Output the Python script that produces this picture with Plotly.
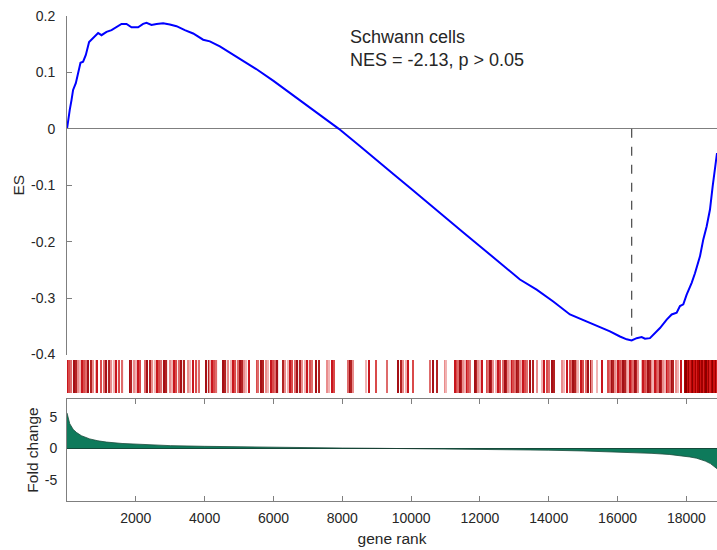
import plotly.graph_objects as go

# Running enrichment score, sampled along the ranked gene list
es_rank = [0, 32, 81, 131, 177, 256, 323, 392, 468, 547, 642, 759, 904, 1003, 1148,
           1294, 1439, 1584, 1730, 1875, 2067, 2212, 2311, 2456, 2602, 2794, 2989,
           3183, 3424, 3666, 3957, 4151, 4442, 4829, 5023, 5500, 6000, 6500, 7000,
           7500, 7900, 8500, 9000, 9500, 10000, 10500, 11000, 11500, 12000, 12500,
           13000, 13163, 13648, 14131, 14616, 15102, 15585, 15779, 16070, 16265,
           16410, 16555, 16701, 16797, 16942, 17088, 17233, 17428, 17573, 17718,
           17814, 17911, 18008, 18154, 18250, 18395, 18492, 18589, 18686, 18764,
           18831, 18890]
es_value = [0, 0.016, 0.034, 0.051, 0.069, 0.081, 0.101, 0.117, 0.119, 0.131, 0.154,
            0.161, 0.170, 0.166, 0.172, 0.175, 0.181, 0.186, 0.186, 0.180, 0.180,
            0.186, 0.188, 0.184, 0.186, 0.187, 0.185, 0.182, 0.175, 0.169, 0.158,
            0.155, 0.146, 0.131, 0.125, 0.106, 0.085, 0.063, 0.040, 0.018, 0.0,
            -0.030, -0.056, -0.081, -0.106, -0.132, -0.157, -0.183, -0.208, -0.233,
            -0.259, -0.267, -0.285, -0.306, -0.329, -0.341, -0.353, -0.359, -0.368,
            -0.373, -0.375, -0.371, -0.369, -0.372, -0.371, -0.362, -0.353, -0.338,
            -0.329, -0.326, -0.314, -0.311, -0.294, -0.273, -0.256, -0.226, -0.196,
            -0.173, -0.143, -0.102, -0.067, -0.043]

# Fold change of each gene along the ranking
fc_rank = [0, 80, 180, 280, 420, 660, 900, 1150, 1600, 2100, 2600, 3000, 4000, 5000,
           6000, 7000, 8000, 9000, 9500, 10000, 11000, 12000, 13000, 14000, 15000,
           16000, 16500, 17000, 17500, 17900, 18100, 18300, 18400, 18550, 18700,
           18800, 18890]
fc_value = [5.6, 3.9, 3.0, 2.5, 2.0, 1.5, 1.2, 1.0, 0.78, 0.62, 0.5, 0.44, 0.33, 0.24,
            0.17, 0.11, 0.06, 0.02, 0.0, -0.02, -0.06, -0.1, -0.15, -0.28, -0.4,
            -0.55, -0.65, -0.78, -0.95, -1.15, -1.35, -1.55, -1.7, -2.0, -2.4, -2.8,
            -3.2]

# Ranks of the gene-set members
hit_rank = [
    3, 61, 131, 198, 256, 323, 392, 451, 509, 567, 616, 694, 759, 837, 860, 983,
    1070, 1148, 1224, 1294, 1361, 1439, 1515, 1614, 1826, 1875, 1942, 2000, 2067,
    2116, 2262, 2328, 2407, 2486, 2552, 2619, 2677, 2747, 2814, 2893, 2989, 3067,
    3113, 3183, 3259, 3329, 3396, 3520, 3590, 3666, 3765, 3840, 4055, 4131, 4160,
    4201, 4230, 4267, 4346, 4538, 4608, 4683,
    4762, 4829, 4898, 4957, 5023, 5090, 5148, 5218, 5285, 5509, 5555, 5634, 5701,
    5771, 5846, 5925, 5992, 6061, 6119, 6282, 6331, 6410, 6477, 6544, 6622, 6700,
    6768, 6834, 6913, 6991, 7058, 7125, 7224, 7320, 7544, 7611, 7689, 7747, 8172,
    8212, 8250, 8299, 8677, 8773, 8968, 9297,
    9625, 9695, 9770, 9849, 9915, 10044, 10547, 10625, 10742, 10983, 11012, 11273,
    11323, 11369, 11418, 11468, 11514, 11563, 11613, 11660, 11709, 11854, 11903,
    11950, 11999, 12048, 12195, 12241, 12290, 12340, 12387, 12465, 12532, 12581,
    12677, 12727, 12776, 12823, 12872, 12922, 12968, 13017, 13067, 13114, 13163,
    13212, 13259, 13308, 13357, 13453, 13550, 13648, 13794, 13861, 13939, 14015,
    14085, 14151,
    14375, 14451, 14520, 14616, 14665, 14712, 14761, 14810, 14857, 14936, 15003,
    15073, 15149, 15227, 15265, 15393, 15538, 15730, 15779, 15829, 15875, 15925,
    15974, 16020, 16070, 16119, 16166, 16215, 16265, 16311, 16361, 16410, 16457,
    16506, 16555, 16602, 16701, 16747, 16797, 16846, 16893, 16942, 16992, 17038,
    17088, 17137, 17184, 17233, 17282, 17329, 17378, 17428, 17474, 17524, 17573,
    17620, 17690, 17765, 17843, 17960, 17998, 18038, 18076, 18114, 18154, 18192,
    18230, 18271, 18309, 18347, 18385, 18425, 18463, 18501, 18541, 18579, 18617,
    18657, 18695, 18735, 18773, 18811, 18851, 18890,
]

gene_set = "Schwann cells"
nes = -2.13
p_label = "p > 0.05"
x_max = 18890

FONT = "Liberation Sans, Arial, Helvetica, sans-serif"
TEXT = "#262626"
AXIS = "#7f7f7f"

# Bar shades for the member strip
light_mix = ["#c8161d", "#e98c8c", "#a50f15", "#d94a4a", "#f1b3b3", "#b22222", "#de6b6b"]
dark_mix = ["#b30000", "#8b0000", "#cc1010", "#a00000", "#d42020"]
hit_colors = [
    (dark_mix[i % len(dark_mix)] if r > 17900 else light_mix[(i * 3) % len(light_mix)])
    for i, r in enumerate(hit_rank)
]

# Leading-edge position (most negative running score)
i_peak = min(range(len(es_value)), key=lambda i: es_value[i])
peak_rank, peak_es = es_rank[i_peak], es_value[i_peak]

fig = go.Figure()

fig.add_trace(go.Scatter(
    x=[peak_rank, peak_rank], y=[0, peak_es], mode="lines",
    line=dict(color="#555555", width=1.3, dash="dash"),
    xaxis="x2", yaxis="y2", hoverinfo="skip", showlegend=False))

fig.add_trace(go.Scatter(
    x=es_rank, y=es_value, mode="lines",
    line=dict(color="#0000ff", width=2),
    xaxis="x2", yaxis="y2", showlegend=False))

fig.add_trace(go.Bar(
    x=hit_rank, y=[1] * len(hit_rank), width=33,
    marker=dict(color=hit_colors, line=dict(width=0)),
    xaxis="x3", yaxis="y3", showlegend=False))

fig.add_trace(go.Scatter(
    x=fc_rank, y=fc_value, mode="lines", fill="tozeroy",
    fillcolor="#0e7a5b", line=dict(color="#1c4b3c", width=0.8),
    xaxis="x", yaxis="y", showlegend=False))

tick_font = dict(family=FONT, size=14, color=TEXT)
title_font = dict(family=FONT, size=15.5, color=TEXT)

fig.update_layout(
    width=717, height=550,
    margin=dict(l=67, r=0, t=16, b=49),
    paper_bgcolor="white", plot_bgcolor="white",
    barmode="overlay",
    font=dict(family=FONT, color=TEXT),
    xaxis=dict(
        domain=[0, 1], range=[0, x_max], anchor="y",
        tickvals=[2000, 4000, 6000, 8000, 10000, 12000, 14000, 16000, 18000],
        ticktext=["2000", "4000", "6000", "8000", "10000", "12000", "14000", "16000", "18000"],
        ticks="inside", ticklen=5, tickcolor=AXIS, tickwidth=1,
        showline=True, linecolor=AXIS, linewidth=1, mirror="ticks",
        showgrid=False, zeroline=False, tickfont=tick_font, ticklabelstandoff=4,
        title=dict(text="gene rank", font=title_font, standoff=8),
    ),
    yaxis=dict(
        domain=[0, 0.2103], range=[-8.3, 7.8], anchor="x",
        tickvals=[-5, 0, 5], ticktext=["-5", "0", "5"], ticks="",
        showline=True, linecolor=AXIS, linewidth=1,
        showgrid=False, zeroline=True, zerolinecolor="#1a1a1a", zerolinewidth=1,
        tickfont=tick_font, ticklabelstandoff=6,
        title=dict(text="Fold change", font=title_font, standoff=2),
    ),
    xaxis2=dict(domain=[0, 1], range=[0, x_max], anchor="y2", visible=False),
    yaxis2=dict(
        domain=[0.302, 1.0], range=[-0.4, 0.2], anchor="x2",
        tickvals=[-0.4, -0.3, -0.2, -0.1, 0, 0.1, 0.2],
        ticktext=["-0.4", "-0.3", "-0.2", "-0.1", "0", "0.1", "0.2"],
        ticks="inside", ticklen=5, tickcolor=AXIS, tickwidth=1,
        showline=True, linecolor=AXIS, linewidth=1,
        showgrid=False, zeroline=True, zerolinecolor=AXIS, zerolinewidth=1,
        tickfont=tick_font, ticklabelstandoff=8,
        title=dict(text="ES", font=title_font, standoff=2),
    ),
    xaxis3=dict(domain=[0, 1], range=[0, x_max], anchor="y3", visible=False),
    yaxis3=dict(domain=[0.2227, 0.2907], range=[0, 1], anchor="x3", visible=False),
    annotations=[dict(
        text=f"{gene_set}<br>NES = {nes:.2f}, {p_label}",
        xref="paper", yref="paper", x=0.432, y=0.933,
        xanchor="left", yanchor="middle", align="left", showarrow=False,
        font=dict(family=FONT, size=18, color=TEXT),
    )],
)

fig.write_html("out.html")
